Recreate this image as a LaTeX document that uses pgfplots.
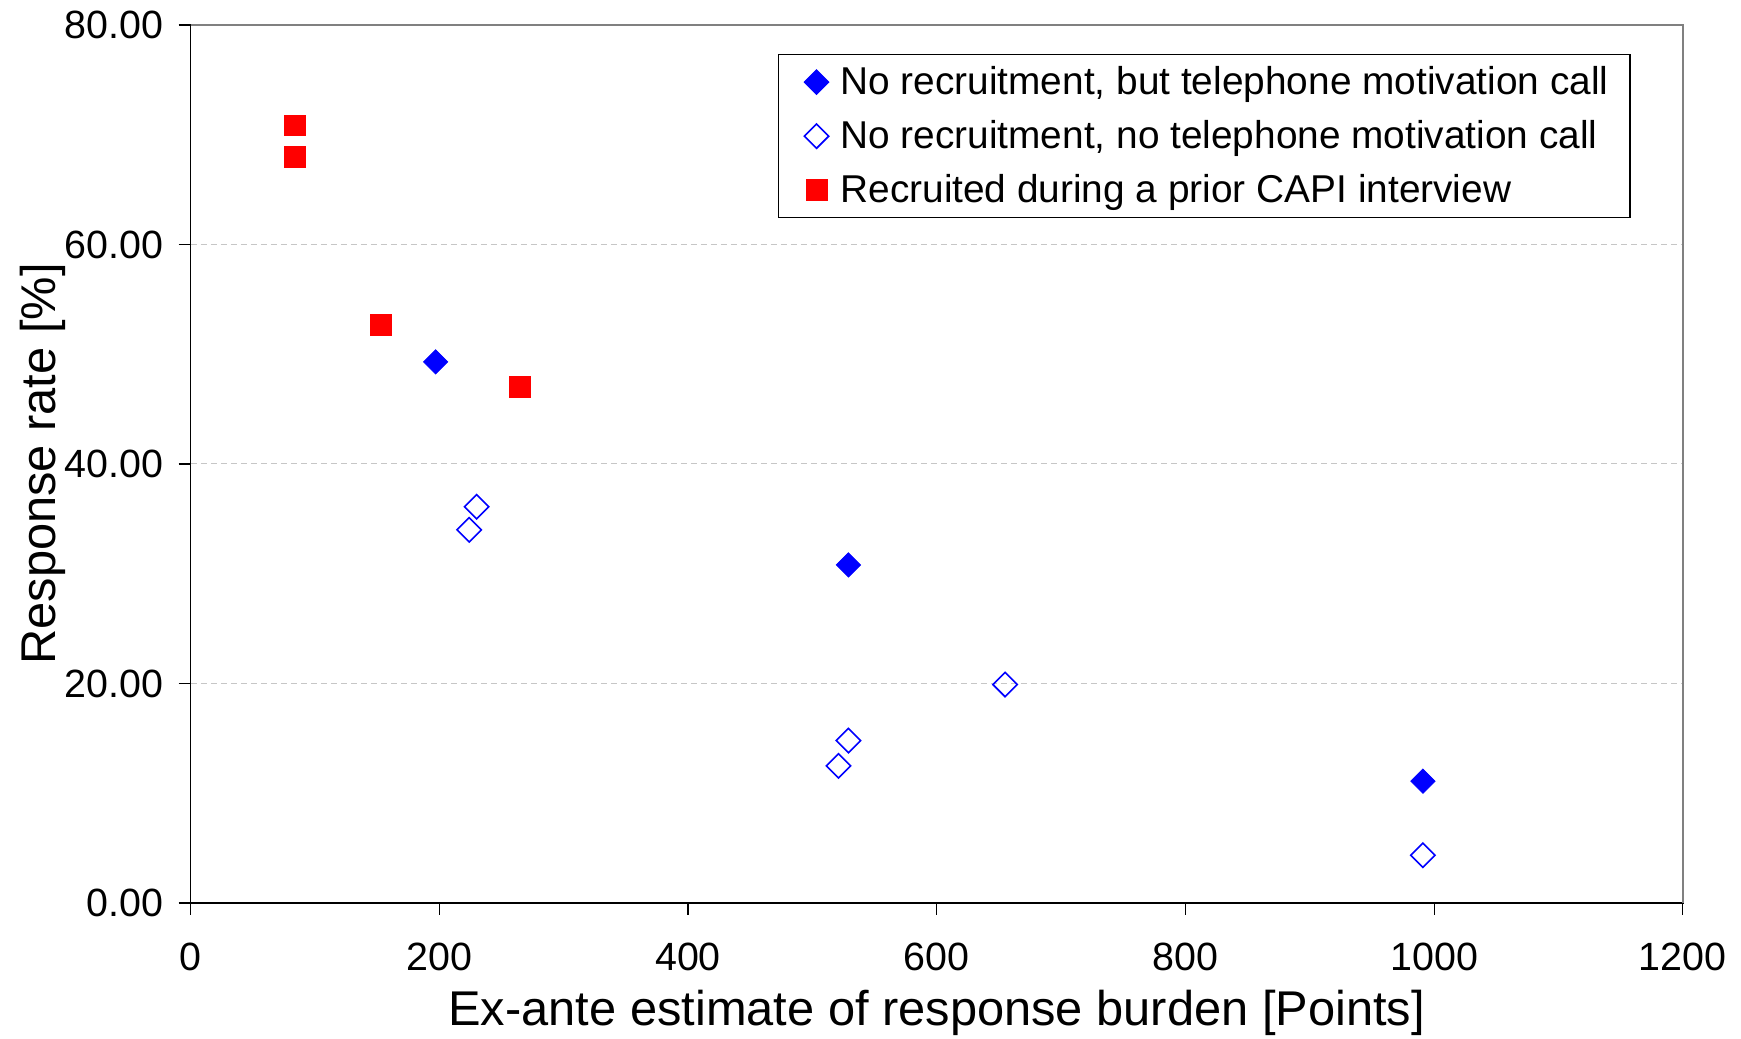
\documentclass[border=0pt]{standalone}
\usepackage{fontspec}
\setmainfont{Liberation Sans}
\usepackage{pgfplots}
\pgfplotsset{compat=1.18}
\begin{document}
\begin{tikzpicture}
\begin{axis}[
  scale only axis,
  width=746pt, height=439pt,
  xmin=0, xmax=1200, ymin=0, ymax=80,
  xtick={0,200,...,1200},
  ytick={0,20,40,60,80},
  xtick pos=left, ytick pos=left,
  tick align=outside,
  major tick length=6pt,
  tick style={black, line width=0.6pt},
  axis line style={black, line width=0.8pt},
  /pgf/number format/assume math mode=true,
  xticklabel={\pgfmathprintnumber[fixed,1000 sep={}]{\tick}},
  yticklabel={\pgfmathprintnumber[fixed,fixed zerofill,precision=2]{\tick}},
  xticklabel style={font=\fontsize{19.7}{23}\selectfont, yshift=-10.6pt, inner xsep=7.2pt},
  yticklabel style={font=\fontsize{19.7}{23}\selectfont, xshift=-4pt, inner ysep=5.5pt},
  scaled ticks=false,
  ymajorgrids,
  grid style={densely dashed, gray!45, line width=0.5pt},
  xlabel={Ex-ante estimate of response burden [Points]},
  ylabel={Response rate [\%]},
  label style={font=\fontsize{24.4}{28}\selectfont},
  xlabel style={at={(axis description cs:0.5,-0.1253)}, anchor=center, inner ysep=1.5pt},
  ylabel style={at={(axis description cs:-0.099,0.5)}, anchor=center, inner ysep=10.1pt},
  legend style={at={(0.965,0.967)}, anchor=north east, draw=black, line width=0.6pt,
    font=\fontsize{19.4}{23}\selectfont, row sep=7.5pt, column sep=3.6pt,
    inner xsep=8.8pt, inner ysep=4pt,
    cells={anchor=west}},
  legend image code/.code={%
    \path (0pt,0pt) (16pt,0pt);
    \draw[#1] plot coordinates {(9.9pt,0pt)};},
  legend cell align=left,
  clip=false,
]
\addplot[only marks, mark=square*, mark size=4.3pt, mark options={rotate=45, fill=blue, draw=blue}]
  coordinates {(197,49.3) (529,30.8) (991,11.1)};
\addlegendentry{No recruitment, but telephone motivation call}
\addplot[only marks, mark=square, mark size=4.3pt, mark options={rotate=45, draw=blue, fill=white, line width=0.8pt}]
  coordinates {(230,36.1) (224,34.0) (529,14.8) (521,12.5) (655,19.9) (991,4.35)};
\addlegendentry{No recruitment, no telephone motivation call}
\addplot[only marks, mark=square*, mark size=5.2pt, mark options={fill=red, draw=red}]
  coordinates {(84,70.85) (84,68.0) (153,52.7) (264.5,47.0)};
\addlegendentry{Recruited during a prior CAPI interview}
\draw[gray, line width=0.8pt] (rel axis cs:0,1) -- (rel axis cs:1,1) -- (rel axis cs:1,0);
\end{axis}
\end{tikzpicture}
\end{document}
